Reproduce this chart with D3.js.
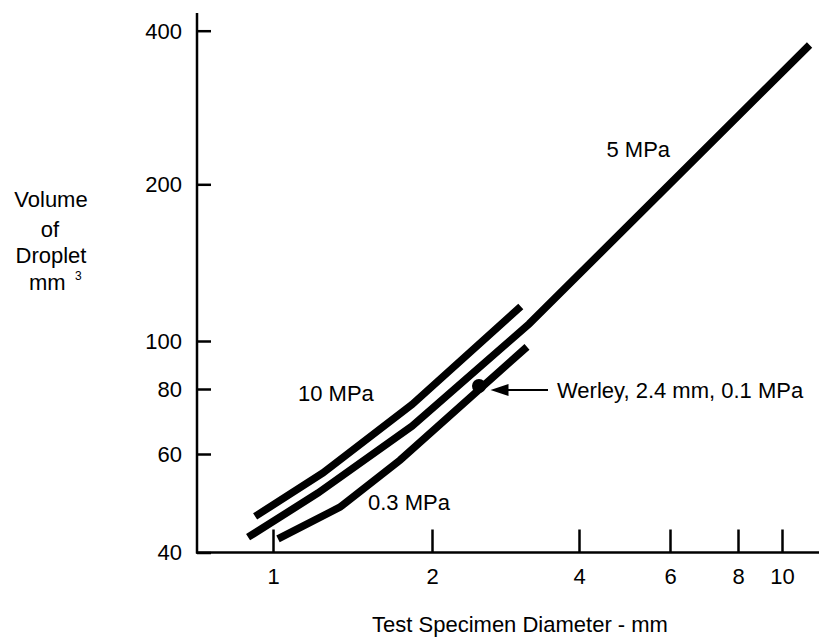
<!DOCTYPE html>
<html>
<head>
<meta charset="utf-8">
<script src="https://cdn.jsdelivr.net/npm/d3@7"></script>
<style>
  html, body { margin: 0; padding: 0; background: #fff; }
  svg { display: block; font-family: "Liberation Sans", Arial, sans-serif; }
</style>
</head>
<body>
<svg id="chart" width="819" height="638"></svg>
<script>
// ---- data ----
const xTickValues = [1, 2, 4, 6, 8, 10];
const yTickValues = [40, 60, 80, 100, 200, 400];

const mpa10Diam = [0.925, 1.243, 1.834, 3.04];
const mpa10Vol  = [46.4, 55.5, 74.7, 116.5];

const mpa5Diam = [0.897, 1.217, 1.834, 3.16, 11.5];
const mpa5Vol  = [42.6, 51.1, 67.9, 107.8, 375];

const mpa03Diam = [1.022, 1.339, 1.740, 3.13];
const mpa03Vol  = [42.3, 48.2, 58.5, 97.3];

const werleyDiam = [2.496];
const werleyVol  = [81.1];

// ---- layout ----
const svg = d3.select("#chart");
const FONT = 22;

// hand-drawn log axes: piecewise log scales through the tick positions
const x = d3.scaleLog().domain(xTickValues).range([273, 432, 579, 670, 738, 782]);
const y = d3.scaleLog().domain(yTickValues).range([552.5, 454, 389, 341, 184.3, 30.7]);

const axisX0 = 197, axisY0 = 552.5;

// axis lines
svg.append("line").attr("x1", axisX0).attr("x2", axisX0).attr("y1", 13).attr("y2", axisY0 + 1)
  .attr("stroke", "#000").attr("stroke-width", 2.5);
svg.append("line").attr("x1", axisX0 - 1).attr("x2", 819).attr("y1", axisY0).attr("y2", axisY0)
  .attr("stroke", "#000").attr("stroke-width", 2.5);

// y axis
const gy = svg.append("g").attr("transform", `translate(${axisX0},0)`)
  .call(d3.axisLeft(y).tickValues(yTickValues).tickFormat(d3.format("d")).tickSize(-14).tickPadding(15));
gy.select(".domain").remove();
gy.selectAll(".tick line").attr("stroke", "#000").attr("stroke-width", 2.5);
gy.selectAll(".tick text").attr("fill", "#000").style("font-size", FONT + "px")
  .style("font-family", "'Liberation Sans', Arial, sans-serif").attr("dy", "0.34em");

// x axis
const gx = svg.append("g").attr("transform", `translate(0,${axisY0})`)
  .call(d3.axisBottom(x).tickValues(xTickValues).tickFormat(d3.format("d")).tickSize(-23).tickPadding(16));
gx.select(".domain").remove();
gx.selectAll(".tick line").attr("stroke", "#000").attr("stroke-width", 2.5);
gx.selectAll(".tick text").attr("fill", "#000").style("font-size", FONT + "px")
  .style("font-family", "'Liberation Sans', Arial, sans-serif");

// curves
const line = d3.line().x(d => x(d[0])).y(d => y(d[1]));
const series = [
  d3.zip(mpa10Diam, mpa10Vol),
  d3.zip(mpa5Diam, mpa5Vol),
  d3.zip(mpa03Diam, mpa03Vol)
];
svg.selectAll("path.curve").data(series).join("path")
  .attr("class", "curve")
  .attr("d", line)
  .attr("fill", "none")
  .attr("stroke", "#000")
  .attr("stroke-width", 7.5)
  .attr("stroke-linecap", "butt")
  .attr("stroke-linejoin", "miter");

// Werley point
svg.selectAll("circle.werley").data(d3.zip(werleyDiam, werleyVol)).join("circle")
  .attr("class", "werley")
  .attr("cx", d => x(d[0])).attr("cy", d => y(d[1])).attr("r", 7).attr("fill", "#000");

// arrow
svg.append("line").attr("x1", 506).attr("x2", 548).attr("y1", 390).attr("y2", 390)
  .attr("stroke", "#000").attr("stroke-width", 2);
svg.append("path").attr("d", "M490.5,390 L508.5,384 L508.5,396 Z").attr("fill", "#000");

// annotations
const txt = (s, xx, yy, anchor) => svg.append("text").attr("x", xx).attr("y", yy)
  .attr("text-anchor", anchor || "start").style("font-size", FONT + "px").attr("fill", "#000").text(s);

txt("10 MPa", 298, 401);
txt("0.3 MPa", 368, 510);
txt("5 MPa", 606.5, 156.5);
txt("Werley, 2.4 mm, 0.1 MPa", 557, 397.5);

// axis titles
txt("Test Specimen Diameter - mm", 520, 632, "middle");
txt("Volume", 51, 206.5, "middle");
txt("of", 50, 236.5, "middle");
txt("Droplet", 51, 262.5, "middle");
const mm = svg.append("text").attr("x", 29).attr("y", 290)
  .style("font-size", FONT + "px").attr("fill", "#000");
mm.append("tspan").text("mm");
mm.append("tspan").attr("x", 75).attr("y", 280).style("font-size", "12px").text("3");
</script>
</body>
</html>
